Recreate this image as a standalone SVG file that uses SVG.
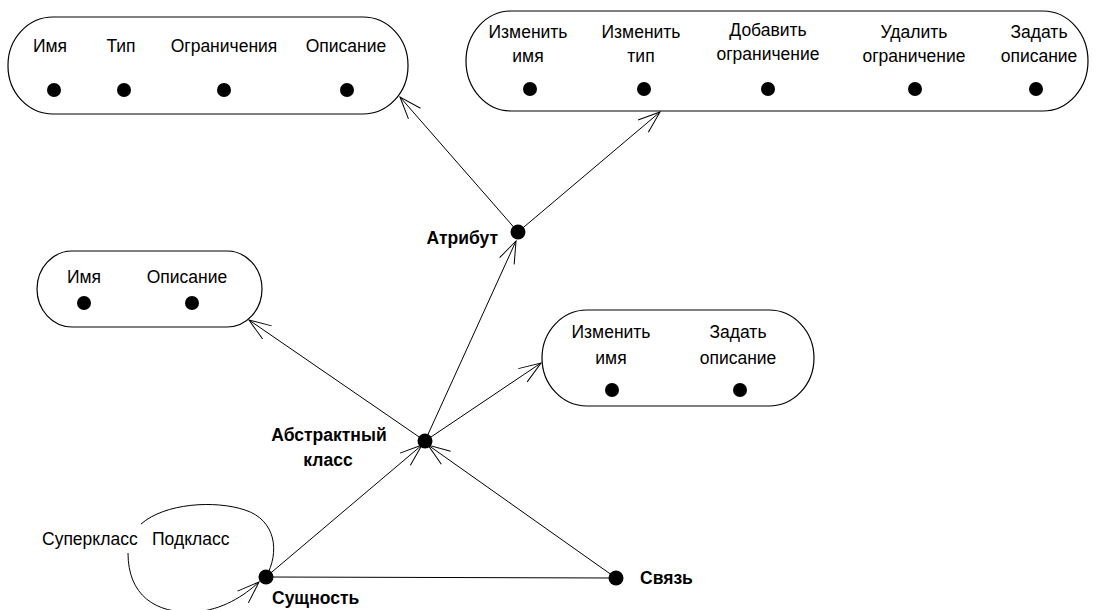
<svg xmlns="http://www.w3.org/2000/svg" width="1096" height="610" viewBox="0 0 1096 610">
<defs>
<style>
.cap{fill:none;stroke:#000;stroke-width:1.2}
.t{font-family:"Liberation Sans",Arial,sans-serif;font-size:17.5px;fill:#000}
.m{text-anchor:middle}
.b{font-weight:bold}
.e{text-anchor:end}
.ln{fill:none;stroke:#000;stroke-width:1}
.arr{marker-end:url(#arrow)}
</style>
<marker id="arrow" markerUnits="userSpaceOnUse" markerWidth="30" markerHeight="20" viewBox="-25 -10 30 20" refX="0" refY="0" orient="auto" overflow="visible">
<path d="M-22,-8 L0,0 L-22,8" fill="none" stroke="#000" stroke-width="1"/>
</marker>
</defs>
<rect width="1096" height="610" fill="#fff"/>

<g id="connectors">
<line class="ln arr" x1="518" y1="232" x2="400" y2="97"/>
<line class="ln arr" x1="518" y1="232" x2="660" y2="112"/>
<line class="ln arr" x1="425" y1="441" x2="516" y2="241"/>
<line class="ln arr" x1="425" y1="441" x2="249" y2="320"/>
<line class="ln arr" x1="425" y1="441" x2="541" y2="363"/>
<line class="ln arr" x1="266" y1="577" x2="422" y2="445"/>
<line class="ln arr" x1="616" y1="578" x2="428" y2="445"/>
<line class="ln" x1="266" y1="577" x2="616" y2="578"/>
<path class="ln" d="M266,577 C280,552 276,520 245,510 C215,500 165,503 141,524"/>
<path class="ln arr" d="M128,553 C128,595 155,614 195,612 C222,610 244,596 259,582"/>
</g>

<g id="attr-props">
<rect class="cap" x="8" y="17" width="400" height="97" rx="45" ry="48"/>
<text class="t m" x="50" y="52">Имя</text>
<text class="t m" x="121" y="52">Тип</text>
<text class="t m" x="224" y="52">Ограничения</text>
<text class="t m" x="346" y="52">Описание</text>
<circle cx="54" cy="90" r="7"/>
<circle cx="124" cy="90" r="7"/>
<circle cx="224" cy="90" r="7"/>
<circle cx="347" cy="90" r="7"/>
</g>

<g id="attr-ops">
<rect class="cap" x="466" y="11" width="622" height="100" rx="45" ry="50"/>
<text class="t m" x="528" y="38">Изменить</text>
<text class="t m" x="528" y="62">имя</text>
<text class="t m" x="641" y="38">Изменить</text>
<text class="t m" x="641" y="62">тип</text>
<text class="t m" x="768" y="36">Добавить</text>
<text class="t m" x="768" y="60">ограничение</text>
<text class="t m" x="914" y="38">Удалить</text>
<text class="t m" x="914" y="62">ограничение</text>
<text class="t m" x="1039" y="38">Задать</text>
<text class="t m" x="1039" y="62">описание</text>
<circle cx="530" cy="89" r="7"/>
<circle cx="644" cy="89" r="7"/>
<circle cx="768" cy="89" r="7"/>
<circle cx="915" cy="89" r="7"/>
<circle cx="1036" cy="89" r="7"/>
</g>

<g id="class-props">
<rect class="cap" x="37" y="251" width="225" height="76" rx="35" ry="38"/>
<text class="t m" x="84" y="283">Имя</text>
<text class="t m" x="187" y="283">Описание</text>
<circle cx="84" cy="303" r="7"/>
<circle cx="192" cy="303" r="7"/>
</g>

<g id="class-ops">
<rect class="cap" x="542" y="310" width="272" height="96" rx="45" ry="48"/>
<text class="t m" x="611" y="338">Изменить</text>
<text class="t m" x="611" y="364">имя</text>
<text class="t m" x="738" y="338">Задать</text>
<text class="t m" x="738" y="364">описание</text>
<circle cx="612" cy="390" r="7"/>
<circle cx="740" cy="390" r="7"/>
</g>

<g id="attribute">
<circle cx="518" cy="232" r="7.5"/>
<text class="t b e" x="498" y="244">Атрибут</text>
</g>

<g id="abstract-class">
<circle cx="425" cy="441" r="7.5"/>
<text class="t b m" x="329" y="441">Абстрактный</text>
<text class="t b m" x="328" y="466">класс</text>
</g>

<g id="entity">
<circle cx="266" cy="577" r="7.5"/>
<text class="t b" x="272" y="604">Сущность</text>
<text class="t" x="42" y="545">Суперкласс</text>
<text class="t" x="152" y="545">Подкласс</text>
</g>

<g id="relation">
<circle cx="616" cy="578" r="7.5"/>
<text class="t b" x="640" y="584">Связь</text>
</g>
</svg>
